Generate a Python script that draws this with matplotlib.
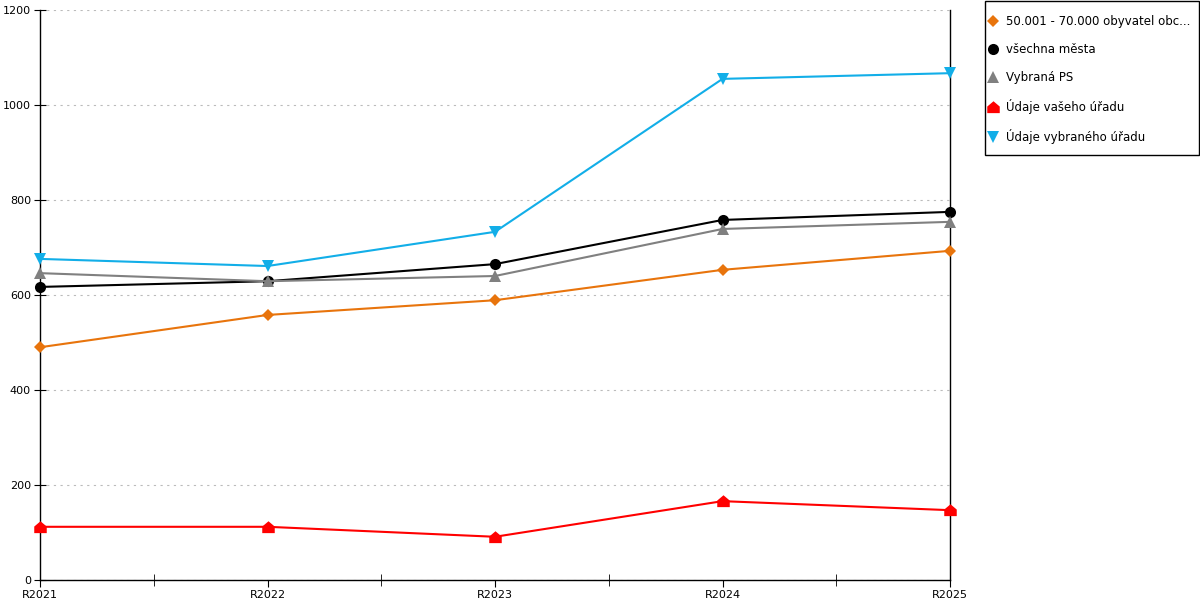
import numpy as np
import matplotlib.pyplot as plt
from matplotlib.path import Path
from matplotlib.lines import Line2D
from matplotlib.patches import Rectangle

plt.rcParams['font.family'] = ['DejaVu Sans']

years = ['R2021', 'R2022', 'R2023', 'R2024', 'R2025']
obce = [490, 558, 589, 653, 693]
mesta = [617, 629, 665, 758, 775]
vybrana_ps = [646, 629, 640, 739, 754]
vas_urad = [112, 112, 91, 166, 147]
vybrany_urad = [676, 661, 733, 1055, 1067]

labels = ['50.001 - 70.000 obyvatel obc...', 'všechna města', 'Vybraná PS',
          'Údaje vašeho úřadu', 'Údaje vybraného úřadu']

# domecek jako znacka
house = Path([(-1, -0.9), (1, -0.9), (1, 0.15), (0, 1), (-1, 0.15), (-1, -0.9)],
             [Path.MOVETO, Path.LINETO, Path.LINETO, Path.LINETO, Path.LINETO, Path.CLOSEPOLY])

series = [
    (obce, '#E8740C', 'D', 6),
    (mesta, '#000000', 'o', 8),
    (vybrana_ps, '#808080', '^', 8),
    (vas_urad, '#FF0000', house, 9),
    (vybrany_urad, '#12AEE8', 'v', 8),
]

W, H = 1200, 600
fig = plt.figure(figsize=(12, 6), dpi=100)
ax = fig.add_axes([40/W, 20/H, 910/W, 570/H])

x = np.arange(len(years))
handles = []
for (vals, col, mk, ms), lab in zip(series, labels):
    ax.plot(x, vals, color=col, lw=1.5, marker=mk, markersize=ms,
            markeredgewidth=0, clip_on=False, zorder=3)
    handles.append(Line2D([], [], color=col, marker=mk, markersize=ms,
                          markeredgewidth=0, linestyle='none', label=lab))

ax.set_xlim(0, 4)
ax.set_ylim(0, 1200)
ax.set_xticks(x)
ax.set_xticklabels(years)
ax.set_xticks(x[:-1] + 0.5, minor=True)
ax.set_yticks(range(0, 1201, 200))
ax.tick_params(axis='x', which='major', direction='out', length=5, labelsize=8, pad=2)
ax.tick_params(axis='x', which='minor', direction='inout', length=9)
ax.tick_params(axis='y', direction='inout', length=9, labelsize=8, pad=2)
ax.yaxis.grid(True, linestyle=(0, (2, 4)), color='#BBBBBB', lw=0.8)
ax.spines['top'].set_visible(False)
for s in ['left', 'bottom', 'right']:
    ax.spines[s].set_linewidth(1)

# ramecek legendy zvlast
fig.patches.append(Rectangle((985/W, 445/H), 214/W, 154/H, transform=fig.transFigure,
                             fill=False, edgecolor='black', lw=1))
leg = fig.legend(handles=handles, loc='upper left', bbox_to_anchor=(989/W, 585/H),
                 borderaxespad=0, frameon=False, borderpad=0,
                 fontsize=8.5, handlelength=0.6, handletextpad=0.85, labelspacing=1.27)

fig.savefig('out.png', dpi=100)
